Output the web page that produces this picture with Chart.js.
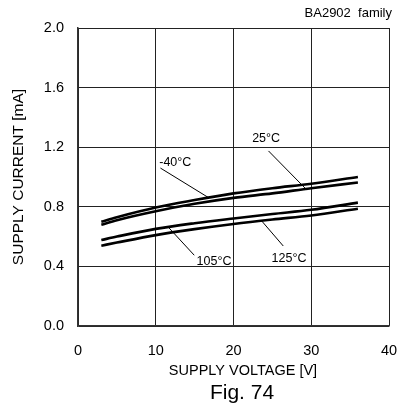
<!DOCTYPE html>
<html>
<head>
<meta charset="utf-8">
<script src="https://cdn.jsdelivr.net/npm/chart.js@4/dist/chart.umd.min.js"></script>
<style>
  html, body { margin: 0; padding: 0; background: #fff; }
  #wrap { width: 398px; height: 412px; }
</style>
</head>
<body>
<div id="wrap"><canvas id="chart" width="398" height="412"></canvas></div>
<script>
// supply voltage [V] and supply current [mA]
const voltages = [3, 5, 10, 15, 20, 25, 30, 36];
const currentM40 = [0.70, 0.73, 0.795, 0.845, 0.89, 0.925, 0.955, 1.0];
const current25 = [0.68, 0.71, 0.77, 0.82, 0.86, 0.89, 0.925, 0.963];
const current105 = [0.577, 0.60, 0.652, 0.69, 0.722, 0.752, 0.78, 0.828];
const current125 = [0.539, 0.56, 0.61, 0.65, 0.685, 0.715, 0.742, 0.787];
const curveNames = ["-40°C", "25°C", "105°C", "125°C"];
const xTicks = [0, 10, 20, 30, 40];
const yTicks = [0, 0.4, 0.8, 1.2, 1.6, 2.0];

// where each callout text sits, where its leader starts, and the voltage it points at
const labelPos = [[10.45, 1.10], [22.4, 1.26], [15.25, 0.43], [24.9, 0.45]];
const leaderStart = [[10.6, 1.06], [24.5, 1.175], [14.95, 0.475], [26.4, 0.537]];
const leaderV = [16.8, 29.3, 11.6, 23.6];

const series = [currentM40, current25, current105, current125];
const FONT = "'Liberation Sans', Arial, sans-serif";

function valueAt(ys, v) {
  for (let i = 0; i < voltages.length - 1; i++) {
    if (v >= voltages[i] && v <= voltages[i + 1]) {
      const t = (v - voltages[i]) / (voltages[i + 1] - voltages[i]);
      return ys[i] + t * (ys[i + 1] - ys[i]);
    }
  }
  return ys[ys.length - 1];
}

const calloutPlugin = {
  id: "callouts",
  beforeDraw(chart) {
    const ctx = chart.ctx;
    ctx.save();
    ctx.fillStyle = "#fff";
    ctx.fillRect(0, 0, chart.width, chart.height);
    ctx.restore();
  },
  afterDraw(chart) {
    const ctx = chart.ctx;
    const xs = chart.scales.x;
    const ys = chart.scales.y;
    ctx.save();
    ctx.strokeStyle = "#000";
    ctx.lineWidth = 1;
    ctx.fillStyle = "#000";
    ctx.font = "12.5px " + FONT;
    ctx.textBaseline = "middle";
    ctx.textAlign = "left";
    series.forEach((s, i) => {
      ctx.beginPath();
      ctx.moveTo(xs.getPixelForValue(leaderStart[i][0]), ys.getPixelForValue(leaderStart[i][1]));
      ctx.lineTo(xs.getPixelForValue(leaderV[i]), ys.getPixelForValue(valueAt(s, leaderV[i])));
      ctx.stroke();
      ctx.fillText(curveNames[i], xs.getPixelForValue(labelPos[i][0]), ys.getPixelForValue(labelPos[i][1]));
    });

    ctx.textBaseline = "alphabetic";
    ctx.textAlign = "right";
    ctx.font = "13px " + FONT;
    ctx.fillText("BA2902  family", 392, 17);

    ctx.textAlign = "center";
    ctx.font = "14.5px " + FONT;
    ctx.fillText("SUPPLY VOLTAGE [V]", 243, 375);
    ctx.font = "21px " + FONT;
    ctx.fillText("Fig. 74", 242, 399);
    ctx.restore();
  }
};

const datasets = series.map((s, i) => ({
  label: curveNames[i],
  data: voltages.map((v, j) => ({ x: v, y: s[j] })),
  borderColor: "#000",
  borderWidth: 2.6,
  pointRadius: 0,
  fill: false,
  cubicInterpolationMode: "monotone"
}));

new Chart(document.getElementById("chart"), {
  type: "line",
  data: { datasets: datasets },
  options: {
    responsive: false,
    animation: false,
    layout: { padding: { top: 28, right: 9, left: 0, bottom: 0 } },
    plugins: {
      legend: { display: false },
      tooltip: { enabled: false }
    },
    scales: {
      x: {
        type: "linear",
        min: 0,
        max: 40,
        afterBuildTicks: (scale) => { scale.ticks = xTicks.map(v => ({ value: v })); },
        afterFit: (scale) => {
          scale.height = 86;
          scale.paddingLeft = 0;
          scale.paddingRight = 0;
        },
        grid: { color: "#222", lineWidth: 1, drawTicks: false },
        border: { display: true, color: "#333", width: 1.5 },
        ticks: {
          color: "#000",
          padding: 16,
          maxRotation: 0,
          font: { family: FONT, size: 14.5 }
        }
      },
      y: {
        min: 0,
        max: 2,
        afterBuildTicks: (scale) => { scale.ticks = yTicks.map(v => ({ value: v })); },
        afterFit: (scale) => {
          scale.width = 78;
          scale.paddingTop = 0;
          scale.paddingBottom = 0;
        },
        grid: { color: "#222", lineWidth: 1, drawTicks: false },
        border: { display: true, color: "#333", width: 1.5 },
        ticks: {
          color: "#000",
          padding: 14,
          font: { family: FONT, size: 14.5 },
          callback: (v) => Number(v).toFixed(1)
        },
        title: {
          display: true,
          text: "SUPPLY CURRENT [mA]",
          color: "#000",
          font: { family: FONT, size: 15.5 },
          padding: { top: 9, bottom: 0 }
        }
      }
    }
  },
  plugins: [calloutPlugin]
});
</script>
</body>
</html>
